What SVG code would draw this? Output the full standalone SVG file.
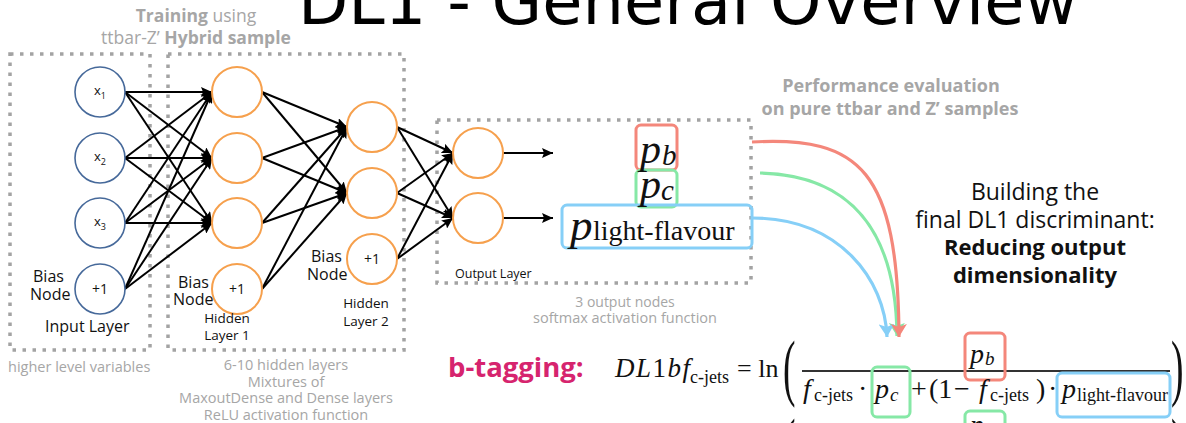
<svg xmlns="http://www.w3.org/2000/svg" width="1186" height="423" viewBox="0 0 1186 423">
<style>
.sans{font-family:"Open Sans","DejaVu Sans",sans-serif}
.gray{fill:#a6a6a6}
.blk{fill:#111}
.bold{font-weight:bold}
.serif{font-family:"Liberation Serif","DejaVu Serif",serif;fill:#111}
.it{font-style:italic}
.dots{fill:none;stroke:#a3a3a3;stroke-width:3.5;stroke-dasharray:3.5 6.5}
.nin{fill:#fff;stroke:#46699a;stroke-width:1.6}
.nh{fill:#fff;stroke:#f6a04d;stroke-width:2}
.edge{stroke:#000;stroke-width:2;fill:none}
.mid{text-anchor:middle}
.box{fill:none;stroke-width:3}
.rb{stroke:#f4877b}
.gb{stroke:#86e8a6}
.bb{stroke:#86cff7}
.curve{fill:none;stroke-width:3.2}
</style>
<defs>
<marker id="ah" markerUnits="userSpaceOnUse" markerWidth="12" markerHeight="10" refX="11" refY="5" orient="auto"><path d="M0,0 L11,5 L0,10 L2,5 z" fill="#000"/></marker>
<marker id="ar" markerUnits="userSpaceOnUse" markerWidth="15" markerHeight="16" refX="13" refY="8" orient="auto"><path d="M0,0 L13,8 L0,16 L3,8 z" fill="#f4877b"/></marker>
<marker id="ag" markerUnits="userSpaceOnUse" markerWidth="15" markerHeight="16" refX="13" refY="8" orient="auto"><path d="M0,0 L13,8 L0,16 L3,8 z" fill="#86e8a6"/></marker>
<marker id="ab" markerUnits="userSpaceOnUse" markerWidth="15" markerHeight="16" refX="13" refY="8" orient="auto"><path d="M0,0 L13,8 L0,16 L3,8 z" fill="#86cff7"/></marker>
</defs>

<text x="298" y="24" font-family="DejaVu Sans,sans-serif" font-size="65" fill="#000" textLength="780" lengthAdjust="spacingAndGlyphs">DL1 - General Overview</text>

<g id="titles">
<text class="sans gray mid" x="196" y="22" font-size="17.5"><tspan class="bold">Training</tspan> using</text>
<text class="sans gray mid" x="196" y="44" font-size="17.5">ttbar-Z’ <tspan class="bold">Hybrid sample</tspan></text>
<text class="sans gray mid bold" x="891" y="92" font-size="18">Performance evaluation</text>
<text class="sans gray mid bold" x="890" y="115" font-size="18">on pure ttbar and Z’ samples</text>
</g>

<g id="frames">
<rect class="dots" x="10" y="54" width="140" height="296"/>
<rect class="dots" x="168" y="54" width="236" height="296"/>
<rect class="dots" x="437" y="120" width="314" height="163"/>
</g>

<g id="connectors">
<line class="edge" marker-end="url(#ah)" x1="125" y1="92" x2="212" y2="92"/>
<line class="edge" marker-end="url(#ah)" x1="125" y1="92" x2="212" y2="158"/>
<line class="edge" marker-end="url(#ah)" x1="125" y1="92" x2="212" y2="223"/>
<line class="edge" marker-end="url(#ah)" x1="125" y1="158" x2="212" y2="92"/>
<line class="edge" marker-end="url(#ah)" x1="125" y1="158" x2="212" y2="158"/>
<line class="edge" marker-end="url(#ah)" x1="125" y1="158" x2="212" y2="223"/>
<line class="edge" marker-end="url(#ah)" x1="125" y1="223" x2="212" y2="92"/>
<line class="edge" marker-end="url(#ah)" x1="125" y1="223" x2="212" y2="158"/>
<line class="edge" marker-end="url(#ah)" x1="125" y1="223" x2="212" y2="223"/>
<line class="edge" marker-end="url(#ah)" x1="125" y1="289" x2="212" y2="92"/>
<line class="edge" marker-end="url(#ah)" x1="125" y1="289" x2="212" y2="158"/>
<line class="edge" marker-end="url(#ah)" x1="125" y1="289" x2="212" y2="223"/>
<line class="edge" marker-end="url(#ah)" x1="262" y1="92" x2="347" y2="127"/>
<line class="edge" marker-end="url(#ah)" x1="262" y1="92" x2="347" y2="193"/>
<line class="edge" marker-end="url(#ah)" x1="262" y1="158" x2="347" y2="127"/>
<line class="edge" marker-end="url(#ah)" x1="262" y1="158" x2="347" y2="193"/>
<line class="edge" marker-end="url(#ah)" x1="262" y1="223" x2="347" y2="127"/>
<line class="edge" marker-end="url(#ah)" x1="262" y1="223" x2="347" y2="193"/>
<line class="edge" marker-end="url(#ah)" x1="262" y1="289" x2="347" y2="127"/>
<line class="edge" marker-end="url(#ah)" x1="262" y1="289" x2="347" y2="193"/>
<line class="edge" marker-end="url(#ah)" x1="397" y1="127" x2="453" y2="153"/>
<line class="edge" marker-end="url(#ah)" x1="397" y1="127" x2="453" y2="218"/>
<line class="edge" marker-end="url(#ah)" x1="397" y1="193" x2="453" y2="153"/>
<line class="edge" marker-end="url(#ah)" x1="397" y1="193" x2="453" y2="218"/>
<line class="edge" marker-end="url(#ah)" x1="397" y1="259" x2="453" y2="153"/>
<line class="edge" marker-end="url(#ah)" x1="397" y1="259" x2="453" y2="218"/>
<line class="edge" marker-end="url(#ah)" x1="503" y1="153" x2="553" y2="153"/>
<line class="edge" marker-end="url(#ah)" x1="503" y1="218" x2="553" y2="218"/>
<path class="curve" stroke="#86e8a6" marker-end="url(#ag)" d="M760,173 C850,175 896,230 897,336"/>
<path class="curve" stroke="#86cff7" marker-end="url(#ab)" d="M752,218 C840,218 885,280 887,337"/>
<path class="curve" stroke="#f4877b" marker-end="url(#ar)" d="M752,142 C860,136 898,170 899,337"/>
</g>

<g id="input-layer">
<circle class="nin" cx="100" cy="92" r="25"/>
<text class="sans blk" x="94" y="95" font-size="13">x<tspan font-size="9" dy="4">1</tspan></text>
<circle class="nin" cx="100" cy="158" r="25"/>
<text class="sans blk" x="94" y="161" font-size="13">x<tspan font-size="9" dy="4">2</tspan></text>
<circle class="nin" cx="100" cy="223" r="25"/>
<text class="sans blk" x="94" y="226" font-size="13">x<tspan font-size="9" dy="4">3</tspan></text>
<circle class="nin" cx="100" cy="289" r="25"/>
<text class="sans blk mid" x="100" y="294" font-size="14">+1</text>
<text class="sans blk" x="33" y="282" font-size="16">Bias</text>
<text class="sans blk" x="30" y="300" font-size="16">Node</text>
<text class="sans blk" x="45" y="332" font-size="16">Input Layer</text>
<text class="sans gray" x="8" y="372" font-size="14.5">higher level variables</text>
</g>

<g id="hidden-layer-1">
<circle class="nh" cx="237" cy="92" r="25"/>
<circle class="nh" cx="237" cy="158" r="25"/>
<circle class="nh" cx="237" cy="223" r="25"/>
<circle class="nh" cx="237" cy="289" r="25"/>
<text class="sans blk mid" x="237" y="294" font-size="14">+1</text>
<text class="sans blk" x="178" y="288" font-size="16">Bias</text>
<text class="sans blk" x="173" y="305" font-size="16">Node</text>
<text class="sans blk mid" x="227" y="323" font-size="13.5">Hidden</text>
<text class="sans blk mid" x="227" y="340" font-size="13.5">Layer 1</text>
</g>

<g id="hidden-layer-2">
<circle class="nh" cx="372" cy="127" r="25"/>
<circle class="nh" cx="372" cy="193" r="25"/>
<circle class="nh" cx="372" cy="259" r="25"/>
<text class="sans blk mid" x="372" y="264" font-size="14">+1</text>
<text class="sans blk" x="311" y="262" font-size="16">Bias</text>
<text class="sans blk" x="307" y="280" font-size="16">Node</text>
<text class="sans blk mid" x="366" y="308" font-size="13.5">Hidden</text>
<text class="sans blk mid" x="366" y="326" font-size="13.5">Layer 2</text>
</g>

<g id="hidden-notes">
<text class="sans gray mid" x="286" y="370" font-size="14.5">6-10 hidden layers</text>
<text class="sans gray mid" x="286" y="387" font-size="14.5">Mixtures of</text>
<text class="sans gray mid" x="286" y="403" font-size="14.5">MaxoutDense and Dense layers</text>
<text class="sans gray mid" x="286" y="420" font-size="14.5">ReLU activation function</text>
</g>

<g id="output-layer">
<circle class="nh" cx="478" cy="153" r="25"/>
<circle class="nh" cx="478" cy="218" r="25"/>
<text class="sans blk" x="455" y="278" font-size="12.5">Output Layer</text>
<text class="sans gray mid" x="625" y="307" font-size="14">3 output nodes</text>
<text class="sans gray mid" x="625" y="323" font-size="14.5">softmax activation function</text>
</g>

<g id="outputs">
<rect class="box rb" x="636" y="125" width="41" height="45" rx="5"/>
<rect class="box gb" x="636" y="170" width="41" height="37" rx="5"/>
<rect class="box bb" x="562" y="205" width="190" height="43" rx="5"/>
<text class="serif it" x="640" y="163" font-size="42">p</text>
<text class="serif it" x="662" y="165" font-size="29">b</text>
<text class="serif it" x="640" y="198" font-size="42">p</text>
<text class="serif it" x="661" y="200" font-size="29">c</text>
<text class="serif it" x="570" y="240" font-size="45">p</text>
<text class="serif" x="593" y="240" font-size="28">light-flavour</text>
</g>

<g id="summary">
<text class="sans blk mid" x="1035" y="200" font-size="23">Building the</text>
<text class="sans blk mid" x="1035" y="228" font-size="23">final DL1 discriminant:</text>
<text class="sans blk mid bold" x="1035" y="255" font-size="22">Reducing output</text>
<text class="sans blk mid bold" x="1035" y="283" font-size="22">dimensionality</text>
</g>

<g id="formula">
<text class="sans bold" x="448" y="377" font-size="27.5" fill="#d6246e">b-tagging:</text>
<text class="serif" x="615" y="377" font-size="27" letter-spacing="1.5"><tspan class="it">DL</tspan>1<tspan class="it">bf</tspan></text>
<text class="serif" x="690" y="383" font-size="18">c-jets</text>
<text class="serif" x="737" y="377" font-size="26">= ln</text>
<text class="serif" transform="translate(783,392) scale(0.5,1)" font-size="75">(</text>
<text class="serif" transform="translate(1171,392) scale(0.5,1)" font-size="75">)</text>
<line x1="802" y1="371" x2="1170" y2="371" stroke="#333" stroke-width="2"/>
<rect class="box rb" x="965" y="333" width="40" height="47" rx="5"/>
<text class="serif it" x="970" y="363" font-size="28">p</text>
<text class="serif it" x="985" y="365" font-size="19">b</text>
<text class="serif it" x="803" y="398" font-size="28">f</text>
<text class="serif" x="814" y="401" font-size="18">c-jets</text>
<text class="serif" x="858" y="398" font-size="28">·</text>
<rect class="box gb" x="872" y="367" width="38" height="50" rx="5"/>
<text class="serif it" x="875" y="398" font-size="28">p</text>
<text class="serif it" x="890" y="401" font-size="19">c</text>
<text class="serif" x="911" y="398" font-size="28">+</text>
<text class="serif" x="929" y="398" font-size="28">(1</text>
<text class="serif" x="954" y="398" font-size="28">−</text>
<text class="serif it" x="979" y="398" font-size="28">f</text>
<text class="serif" x="990" y="401" font-size="18">c-jets</text>
<text class="serif" x="1036" y="398" font-size="28">)</text>
<text class="serif" x="1048" y="398" font-size="28">·</text>
<rect class="box bb" x="1057" y="373" width="113" height="44" rx="5"/>
<text class="serif it" x="1062" y="398" font-size="28">p</text>
<text class="serif" x="1077" y="401" font-size="18">light-flavour</text>
<text class="serif" transform="translate(783,470) scale(0.5,1)" font-size="75">(</text>
<text class="serif" transform="translate(1171,470) scale(0.5,1)" font-size="75">)</text>
<rect class="box gb" x="965" y="411" width="40" height="40" rx="5"/>
<text class="serif it" x="970" y="434" font-size="28">p</text>
</g>
</svg>
